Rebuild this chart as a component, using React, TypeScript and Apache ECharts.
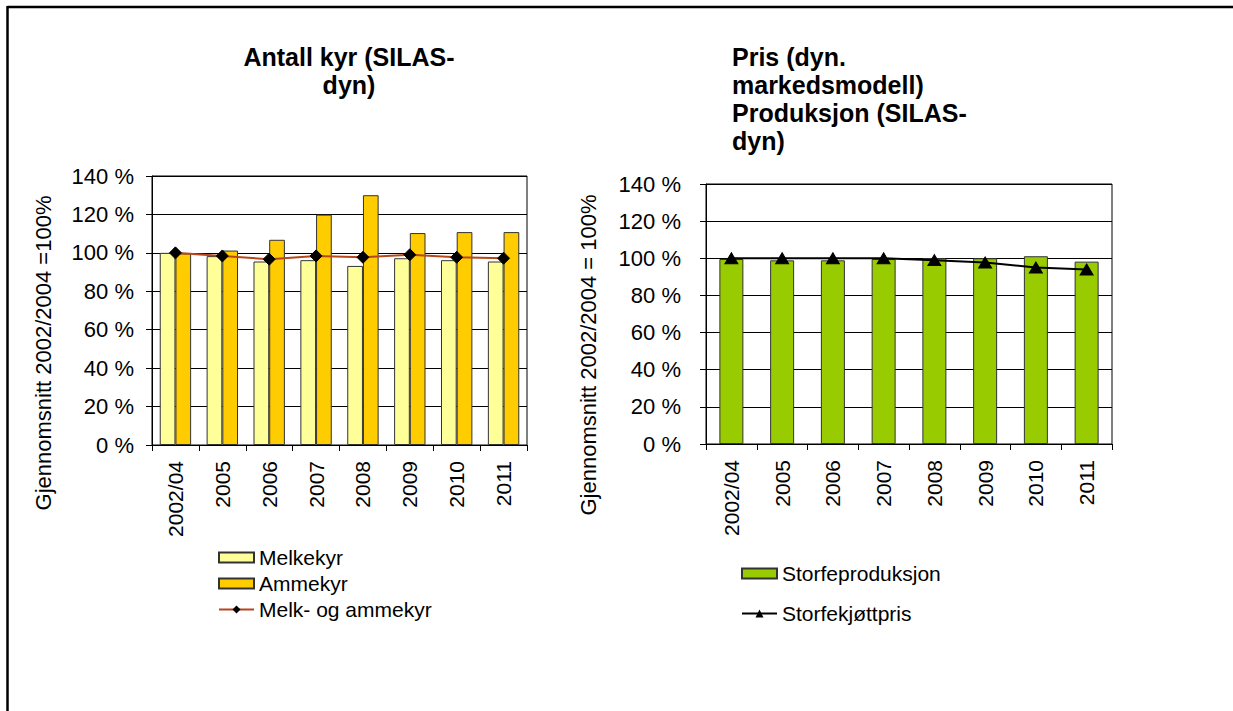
import React, { useEffect, useRef } from "react";
import * as echarts from "echarts";

const categories = ["2002/04", "2005", "2006", "2007", "2008", "2009", "2010", "2011"];
const melkekyr = [100, 98.3, 95.5, 96.2, 93.2, 97.2, 96.2, 95.5];
const ammekyr = [99.7, 101.2, 106.8, 119.9, 130.0, 110.3, 110.8, 110.8];
const melkOgAmmekyr = [100, 98.4, 96.7, 98.4, 97.7, 99.0, 97.7, 97.2];
const storfeproduksjon = [99.6, 98.9, 98.9, 99.6, 100, 100, 101.1, 98.2];
const storfekjottpris = [100, 100, 100, 100, 99, 97.7, 95, 94];

const leftTitle = "Antall kyr (SILAS-\ndyn)";
const rightTitle = "Pris (dyn.\nmarkedsmodell)\nProduksjon (SILAS-\ndyn)";
const leftYName = "Gjennomsnitt 2002/2004 =100%";
const rightYName = "Gjennomsnitt 2002/2004 = 100%";

const FONT = "Arial, 'Liberation Sans', sans-serif";

export default function App() {
  const ref = useRef<HTMLDivElement>(null);
  useEffect(() => {
    if (!ref.current) return;
    const chart = echarts.init(ref.current, undefined, { renderer: "svg" });
    const yAxisBase = (gridIndex: number, margin: number) => ({
      type: "value",
      gridIndex,
      min: 0,
      max: 140,
      interval: 20,
      axisLine: { show: true, lineStyle: { color: "#000", width: 1 } },
      axisTick: { show: true, length: 6, lineStyle: { color: "#000" } },
      axisLabel: {
        formatter: "{value} %",
        color: "#000",
        fontSize: 22,
        fontFamily: FONT,
        margin,
      },
      splitLine: { show: true, lineStyle: { color: "#000", width: 1 } },
    });
    const xAxisBase = (gridIndex: number) => ({
      type: "category",
      gridIndex,
      data: categories,
      boundaryGap: true,
      axisLine: { show: true, lineStyle: { color: "#000", width: 1 } },
      axisTick: { show: true, length: 6, alignWithLabel: false, lineStyle: { color: "#000" } },
      axisLabel: {
        rotate: 90,
        color: "#000",
        fontSize: 21,
        fontFamily: FONT,
        margin: 16,
        interval: 0,
      },
    });
    chart.setOption({
      animation: false,
      backgroundColor: "#fff",
      title: [
        {
          text: leftTitle,
          left: 349,
          top: 43,
          textAlign: "center",
          padding: 0,
          textStyle: { fontSize: 25, fontWeight: "bold", fontFamily: FONT, color: "#000", lineHeight: 28, align: "center" },
        },
        {
          text: rightTitle,
          left: 732,
          top: 43,
          padding: 0,
          textStyle: { fontSize: 25, fontWeight: "bold", fontFamily: FONT, color: "#000", lineHeight: 28 },
        },
      ],
      grid: [
        { left: 152, top: 176, width: 375, height: 269, show: true, borderColor: "#000", borderWidth: 1, backgroundColor: "transparent" },
        { left: 706, top: 184, width: 406, height: 260, show: true, borderColor: "#000", borderWidth: 1, backgroundColor: "transparent" },
      ],
      xAxis: [xAxisBase(0), xAxisBase(1)],
      yAxis: [yAxisBase(0, 18), yAxisBase(1, 25)],
      legend: [
        {
          orient: "vertical",
          left: 218,
          top: 547,
          padding: 0,
          itemWidth: 35,
          itemHeight: 10,
          itemGap: 5,
          textStyle: { fontSize: 21, fontFamily: FONT, color: "#000", lineHeight: 20 },
          data: [
            { name: "Melkekyr", icon: "rect" },
            { name: "Ammekyr", icon: "rect" },
            { name: "Melk- og ammekyr" },
          ],
        },
        {
          orient: "vertical",
          left: 741,
          top: 563,
          padding: 0,
          itemWidth: 35,
          itemHeight: 10,
          itemGap: 19,
          textStyle: { fontSize: 21, fontFamily: FONT, color: "#000", lineHeight: 20 },
          data: [{ name: "Storfeproduksjon", icon: "rect" }, { name: "Storfekjøttpris" }],
        },
      ],
      series: [
        {
          name: "Melkekyr",
          type: "bar",
          xAxisIndex: 0,
          yAxisIndex: 0,
          data: melkekyr,
          barGap: "0%",
          barCategoryGap: "33%",
          itemStyle: { color: "#FFFF99", borderColor: "#333", borderWidth: 1 },
        },
        {
          name: "Ammekyr",
          type: "bar",
          xAxisIndex: 0,
          yAxisIndex: 0,
          data: ammekyr,
          barGap: "0%",
          barCategoryGap: "33%",
          itemStyle: { color: "#FFCC00", borderColor: "#333", borderWidth: 1 },
        },
        {
          name: "Melk- og ammekyr",
          type: "line",
          xAxisIndex: 0,
          yAxisIndex: 0,
          data: melkOgAmmekyr,
          symbol: "diamond",
          symbolSize: 12,
          lineStyle: { color: "#B5471B", width: 2 },
          itemStyle: { color: "#000", borderColor: "#000" },
          z: 5,
        },
        {
          name: "Storfeproduksjon",
          type: "bar",
          xAxisIndex: 1,
          yAxisIndex: 1,
          data: storfeproduksjon,
          barWidth: 24,
          itemStyle: { color: "#99CC00", borderColor: "#333", borderWidth: 1 },
        },
        {
          name: "Storfekjøttpris",
          type: "line",
          xAxisIndex: 1,
          yAxisIndex: 1,
          data: storfekjottpris,
          symbol: "triangle",
          symbolSize: [13, 11],
          lineStyle: { color: "#000", width: 2 },
          itemStyle: { color: "#000", borderColor: "#000" },
          z: 5,
        },
      ],
      graphic: [
        { type: "line", shape: { x1: 7.5, y1: 7, x2: 1233, y2: 7 }, style: { stroke: "#000", lineWidth: 2.5 } },
        { type: "line", shape: { x1: 7.5, y1: 6, x2: 7.5, y2: 711 }, style: { stroke: "#000", lineWidth: 2.5 } },
        {
          type: "text",
          x: 43,
          y: 353,
          rotation: Math.PI / 2,
          style: { text: leftYName, fontSize: 22, fontFamily: FONT, fill: "#000", textAlign: "center", textVerticalAlign: "middle" },
        },
        {
          type: "text",
          x: 588,
          y: 355,
          rotation: Math.PI / 2,
          style: { text: rightYName, fontSize: 22, fontFamily: FONT, fill: "#000", textAlign: "center", textVerticalAlign: "middle" },
        },
      ],
    });
    return () => chart.dispose();
  }, []);
  return <div ref={ref} style={{ position: "fixed", left: 0, top: 0, width: 1233, height: 711 }} />;
}
